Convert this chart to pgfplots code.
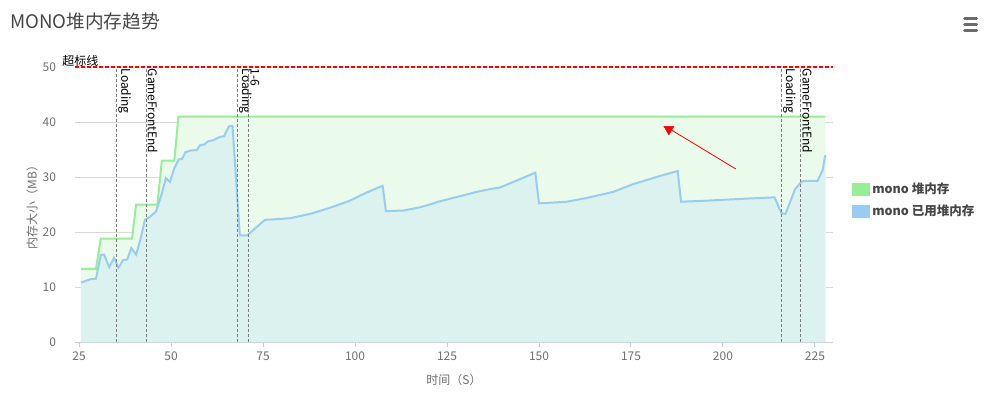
\documentclass[border=0pt]{standalone}
\usepackage{pgfplots}
\usepackage{pgfplotstable}
\pgfplotsset{compat=1.18}
\usetikzlibrary{arrows.meta}
\usepackage{fontspec}
\setmainfont{Noto Sans CJK SC}
\definecolor{gline}{RGB}{150,238,150}
\definecolor{gfill}{RGB}{235,251,235}
\definecolor{bline}{RGB}{153,204,242}
\definecolor{bfill}{RGB}{219,242,238}
\definecolor{axcol}{RGB}{192,206,224}
\definecolor{txt}{RGB}{110,110,110}
\definecolor{titlec}{RGB}{70,70,70}
\definecolor{gridc}{RGB}{214,218,214}
\definecolor{mlc}{RGB}{125,125,125}
\definecolor{limitred}{RGB}{255,0,0}

\pgfplotstableread{
x y
25.5 13.3
29.6 13.3
30.9 18.8
39.4 18.8
40.5 25.0
46.3 25.0
47.5 33.0
50.9 33.0
52.0 41.0
227.8 41.0
}\greendata

\pgfplotstableread{
x y
25.5 10.8
28.0 11.4
29.6 11.5
30.9 15.8
31.8 15.9
33.2 13.6
34.5 15.3
35.7 13.5
37.0 14.9
38.1 15.0
39.2 17.1
40.5 15.9
41.6 18.4
42.9 22.2
44.3 22.8
45.9 23.7
47.5 27.0
48.6 29.8
49.7 29.1
50.9 31.6
52.1 33.2
53.0 33.3
53.9 34.5
55.2 34.8
57.0 34.9
57.9 35.8
59.0 35.9
60.1 36.5
61.5 36.7
63.3 37.3
64.4 37.4
65.7 39.2
66.7 39.3
68.7 19.4
70.7 19.4
75.5 22.2
77.8 22.3
82.3 22.5
87.8 23.3
93.2 24.4
98.6 25.7
103.2 27.2
107.5 28.4
108.4 23.8
113.1 23.9
117.7 24.5
121.3 25.2
122.6 25.5
133.1 27.3
136.7 27.8
139.4 28.1
144.8 29.6
149.0 30.8
150.0 25.2
157.5 25.5
163.0 26.2
170.2 27.3
175.6 28.7
182.9 30.2
187.7 31.1
188.6 25.5
195.6 25.7
207.3 26.1
214.0 26.3
215.9 23.4
217.0 23.3
219.6 27.8
221.4 29.2
222.8 29.3
225.7 29.3
227.1 31.3
227.8 34.0
}\bluedata

\begin{document}
\begin{tikzpicture}
\useasboundingbox (0,0) rectangle (739.5pt,300pt);
\node[anchor=west,inner sep=0pt,text=titlec,font=\fontsize{14}{16}\selectfont] at (7.5pt,284.25pt) {MONO堆内存趋势};
\foreach \yy in {285.75pt,281.25pt,276.75pt}
  \draw[line width=2.25pt, line cap=round, color=titlec!80] (723.5pt,\yy) -- (732.5pt,\yy);
\begin{axis}[
  at={(56.25pt,43.5pt)}, anchor=south west,
  scale only axis, width=568.5pt, height=206.25pt,
  xmin=23.9, xmax=229.9, ymin=0, ymax=50,
  axis x line*=bottom, axis y line*=left,
  x axis line style={draw=axcol, line width=0.75pt, -},
  y axis line style={draw=none, -},
  xtick={25,50,...,225}, ytick={0,10,...,40},
  tick align=outside, major tick length=3.75pt,
  xtick style={draw=axcol, line width=0.75pt},
  ytick style={draw=none},
  extra y ticks={50}, extra y tick style={grid=none},
  ymajorgrids, grid style={gridc, line width=0.75pt},
  ticklabel style={font=\fontsize{9}{10}\selectfont, text=txt},
  /pgf/number format/assume math mode=true,
  yticklabel style={xshift=-7pt},
  xlabel={时间（S）}, ylabel={内存大小（MB）},
  label style={font=\fontsize{9}{10}\selectfont, text=txt},
  xlabel style={at={(rel axis cs:0.5,-0.138)}, anchor=center},
  ylabel style={at={(rel axis cs:-0.0567,0.5)}, anchor=center},
  legend style={at={(1.0245,0.516)}, anchor=west, draw=none, fill=none,
    font=\fontsize{9.4}{10}\selectfont\bfseries, text=titlec, row sep=3pt,
    inner sep=0pt, nodes={inner xsep=2.5pt}},
  legend cell align=left,
  clip=false,
]
\addplot[fill=gfill, draw=none, forget plot] table {\greendata} \closedcycle;
\addplot[fill=bfill, draw=none, forget plot] table {\bluedata} \closedcycle;
\addplot[gline, line width=1.5pt, forget plot] table {\greendata};
\addplot[bline, line width=1.5pt, forget plot] table {\bluedata};

% event markers
\addplot[mlc, line width=0.6pt, dash pattern=on 2.25pt off 1.5pt, forget plot] coordinates {(35.2,0) (35.2,50)}
  node[pos=1, rotate=-90, anchor=south west, inner sep=1pt, text=black, font=\fontsize{9}{10}\selectfont] {Loading};
\addplot[mlc, line width=0.6pt, dash pattern=on 2.25pt off 1.5pt, forget plot] coordinates {(43.2,0) (43.2,50)}
  node[pos=1, rotate=-90, anchor=south west, inner sep=1pt, text=black, font=\fontsize{9}{10}\selectfont] {GameFrontEnd};
\addplot[mlc, line width=0.6pt, dash pattern=on 2.25pt off 1.5pt, forget plot] coordinates {(68.0,0) (68.0,50)}
  node[pos=1, rotate=-90, anchor=south west, inner sep=1pt, text=black, font=\fontsize{9}{10}\selectfont] {Loading};
\addplot[mlc, line width=0.6pt, dash pattern=on 2.25pt off 1.5pt, forget plot] coordinates {(71.1,0) (71.1,50)}
  node[pos=1, rotate=-90, anchor=south west, inner sep=1pt, text=black, font=\fontsize{9}{10}\selectfont] {1-6};
\addplot[mlc, line width=0.6pt, dash pattern=on 2.25pt off 1.5pt, forget plot] coordinates {(215.9,0) (215.9,50)}
  node[pos=1, rotate=-90, anchor=south west, inner sep=1pt, text=black, font=\fontsize{9}{10}\selectfont] {Loading};
\addplot[mlc, line width=0.6pt, dash pattern=on 2.25pt off 1.5pt, forget plot] coordinates {(221.1,0) (221.1,50)}
  node[pos=1, rotate=-90, anchor=south west, inner sep=1pt, text=black, font=\fontsize{9}{10}\selectfont] {GameFrontEnd};

% threshold line
\addplot[draw=limitred, color=limitred, line width=0.8pt, dash pattern=on 3pt off 1.5pt, forget plot] coordinates {(23.9,50) (229.9,50)};
\node[anchor=south west, inner sep=0pt, text=black, font=\fontsize{9}{10}\selectfont, xshift=-9.75pt, yshift=0.5pt] at (rel axis cs:0,1) {超标线};

% red arrow annotation
\addplot[draw=limitred, line width=0.6pt, forget plot] coordinates {(203.5,31.45) (186.1,38.5)};
\addplot[only marks, mark=triangle*, mark size=4.3pt, mark options={rotate=180, fill=limitred, draw=limitred}, forget plot] coordinates {(185.3,38.7)};

\addlegendimage{legend image code/.code={\fill[gline] (0pt,-4.4pt) rectangle (12.5pt,4.4pt);}}
\addlegendentry{mono 堆内存}
\addlegendimage{legend image code/.code={\fill[bline] (0pt,-4.4pt) rectangle (12.5pt,4.4pt);}}
\addlegendentry{mono 已用堆内存}
\end{axis}
\end{tikzpicture}
\end{document}
